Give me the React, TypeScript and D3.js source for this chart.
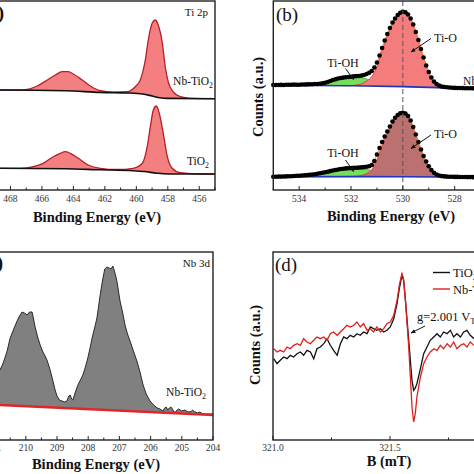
import React from "react";
import * as d3 from "d3";

const FONT = "'Liberation Serif', 'Times New Roman', 'DejaVu Serif', serif";

// ---------- (a) Ti 2p ----------
const tiEnergyNb = [470, 468.65, 467.57, 466.93, 466.3, 465.66, 465.15, 464.71, 464.32, 464.01, 463.44, 462.93, 462.29, 461.47, 460.58, 460.07, 459.75, 459.43, 459.24, 458.99, 458.8, 458.61, 458.35, 458.16, 457.97, 457.65, 457.21, 456.57, 455];
const tiCountsNb = [100, 100, 100, 100.7, 104, 110, 115, 118.3, 118.3, 116, 110, 104, 99.3, 97.8, 98.3, 103.3, 110, 130, 150, 167, 170, 165, 147, 123, 108, 98, 93.3, 91.7, 91.3];
const tiBgEnergyNb = [470, 468.65, 464.5, 462.3, 460.5, 459.6, 459.0, 458.5, 458.0, 455];
const tiBgNb = [100, 100, 99.3, 97.6, 97, 96, 94, 92.2, 91.6, 91.3];

const tiEnergyTi = [470, 468.65, 467.38, 466.55, 465.92, 465.28, 464.83, 464.52, 464.2, 463.69, 463.06, 462.29, 461.21, 460.2, 459.62, 459.31, 459.11, 458.92, 458.73, 458.54, 458.29, 458.03, 457.72, 457.21, 455.94, 455];
const tiCountsTi = [21.7, 21.7, 21.7, 23.3, 26.7, 33.3, 36.7, 38.3, 36.7, 31.7, 25, 21.7, 20.5, 21.7, 26.7, 43.3, 63.3, 80, 84, 76.7, 56.7, 33.3, 21.7, 17.3, 16, 16];
const tiBgEnergyTi = [470, 468.65, 464.5, 462.3, 460.2, 459.5, 458.7, 458.0, 455];
const tiBgTi = [21.7, 21.7, 21.2, 20.2, 19.3, 18.5, 16.8, 16, 16];

const ticksAMajor = [470, 468, 466, 464, 462, 460, 458, 456];
const ticksAMinor = [469, 467, 465, 463, 461, 459, 457, 455];

// ---------- (b) O 1s ----------
const oEnergy = [535.0, 534.9, 534.8, 534.7, 534.6, 534.5, 534.4, 534.3, 534.2, 534.1, 534.0, 533.9, 533.8, 533.7, 533.6, 533.5, 533.4, 533.3, 533.2, 533.1, 533.0, 532.9, 532.8, 532.7, 532.6, 532.5, 532.4, 532.3, 532.2, 532.1, 532.0, 531.9, 531.8, 531.7, 531.6, 531.5, 531.4, 531.3, 531.2, 531.1, 531.0, 530.9, 530.8, 530.7, 530.6, 530.5, 530.4, 530.3, 530.2, 530.1, 530.0, 529.9, 529.8, 529.7, 529.6, 529.5, 529.4, 529.3, 529.2, 529.1, 529.0, 528.9, 528.8, 528.7, 528.6, 528.5, 528.4, 528.3, 528.2, 528.1, 528.0, 527.9, 527.8, 527.7, 527.6, 527.5, 527.4, 527.3, 527.2, 527.1, 527.0, 526.9, 526.8, 526.7, 526.6, 526.5, 526.4, 526.3, 526.2, 526.1, 526.0];
const oCountsNb = [105, 105, 105, 105.1, 105, 105.2, 105.3, 105.2, 105.4, 105.3, 105.3, 105.5, 105.5, 105.6, 105.8, 105.8, 106, 106, 106.3, 106.8, 107.3, 108, 109, 110, 110.8, 111.5, 112, 112.4, 112.7, 113, 113.3, 113.6, 113.9, 114, 114.4, 115, 116, 117.2, 119, 122.5, 127.5, 134.5, 142, 149.5, 156, 162, 167.5, 171.5, 175, 177.3, 178.3, 177.8, 175.5, 171.5, 165.5, 158, 150, 141, 132.5, 124.5, 118, 112.5, 108.5, 106, 104.5, 103.5, 103, 102.7, 102.5, 102.3, 102.1, 102, 102, 101.9, 101.8, 101.8, 101.7, 101.7, 101.7, 101.6, 101.6, 101.6, 101.6, 101.5, 101.5, 101.5, 101.5, 101.4, 101.4, 101.4, 101.4];
const oCountsTi = [13.3, 13.3, 13.4, 13.4, 13.5, 13.6, 13.7, 13.8, 14, 14.2, 14.3, 14.5, 14.7, 14.9, 15.2, 15.5, 15.8, 16.2, 16.7, 17.2, 17.7, 18.3, 18.9, 19.5, 20, 20.5, 21, 21.3, 21.6, 21.8, 22, 22.1, 22.2, 22.4, 22.6, 22.9, 23.3, 23.8, 25, 29, 35.5, 42, 48, 53.5, 58.5, 63.5, 68.5, 72.3, 75, 76.8, 77.3, 76.5, 74, 69.5, 63, 55.5, 48, 40.5, 34, 28.5, 23.8, 20, 17.2, 15.5, 14.5, 13.9, 13.6, 13.4, 13.3, 13.2, 13.1, 13.1, 13, 13, 13, 12.9, 12.9, 12.9, 12.8, 12.8, 12.8, 12.8, 12.8, 12.7, 12.7, 12.7, 12.7, 12.7, 12.7, 12.7, 12.7];

const oBgEnergy = [535, 532, 530, 528, 526];
const oBgNb = [104.8, 104.3, 103.4, 101.9, 101.4];
const oBgTi = [13.3, 13.4, 13.3, 13.0, 12.7];

const compEnergy = [534.0, 533.8, 533.6, 533.4, 533.2, 533.0, 532.8, 532.6, 532.4, 532.2, 532.0, 531.8, 531.6, 531.4, 531.2, 531.0, 530.8, 530.6, 530.4, 530.2, 530.0, 529.8, 529.6, 529.4, 529.2, 529.0, 528.8, 528.6, 528.4, 528.2];
const tiOHNb = [0.1, 0.2, 0.4, 0.8, 1.6, 2.8, 4.3, 5.8, 7.2, 8.3, 8.9, 8.9, 8.3, 7.0, 5.5, 4.0, 2.8, 1.8, 1.1, 0.6, 0.3, 0.1, 0, 0, 0, 0, 0, 0, 0, 0];
const tiONb = [0, 0, 0, 0, 0, 0, 0, 0, 0, 0, 0, 0.8, 2, 5, 9.5, 19.6, 35.4, 50.5, 62.9, 71, 74.7, 72.3, 62.4, 47, 29.6, 15.2, 5.8, 1.9, 0.5, 0.1];
const tiOHTi = [0.8, 1.2, 1.7, 2.3, 3.1, 4.0, 5.0, 6.0, 7.0, 7.8, 8.3, 8.5, 8.2, 7.3, 6.0, 4.7, 3.5, 2.4, 1.5, 0.9, 0.5, 0.2, 0.1, 0, 0, 0, 0, 0, 0, 0];
const tiOTi = [0, 0, 0, 0, 0, 0, 0, 0, 0, 0, 0, 0.5, 1.2, 3, 7, 17, 31, 42.6, 53.6, 60.7, 63.4, 60.7, 49.7, 34.7, 20.8, 10.6, 4, 1.4, 0.4, 0.1];

const ticksBMajor = [534, 532, 530, 528, 526];
const ticksBMinor = [535, 533, 531, 529, 527];

// ---------- (c) Nb 3d ----------
const nbEnergy = [211.5, 211.3, 211.1, 210.95, 210.83, 210.75, 210.67, 210.59, 210.51, 210.4, 210.28, 210.2, 210.12, 210.04, 209.96, 209.88, 209.8, 209.75, 209.71, 209.62, 209.54, 209.45, 209.38, 209.31, 209.22, 209.13, 209.06, 209.0, 208.92, 208.84, 208.76, 208.68, 208.62, 208.58, 208.53, 208.49, 208.42, 208.33, 208.25, 208.17, 208.1, 208.02, 207.94, 207.86, 207.78, 207.72, 207.63, 207.55, 207.47, 207.4, 207.33, 207.27, 207.21, 207.15, 207.08, 206.98, 206.9, 206.82, 206.74, 206.66, 206.55, 206.44, 206.34, 206.24, 206.14, 206.02, 205.9, 205.79, 205.7, 205.6, 205.55, 205.5, 205.45, 205.4, 205.35, 205.3, 205.25, 205.2, 205.15, 205.1, 205.0, 204.9, 204.8, 204.7, 204.65, 204.6, 204.5, 204.42, 204.35, 204.26, 204.15, 204.0];
const nbCounts = [48, 55, 62, 66, 70, 75, 82, 90, 101, 110, 119, 124, 128, 127, 125, 128, 128, 121, 114, 103, 95, 88, 84, 79, 70, 59, 50, 44, 40, 39, 38, 39, 44, 45, 41, 40, 47, 55, 60, 65, 72, 81, 92, 104, 114, 122, 142, 158, 171, 173, 172, 171, 174, 168, 159, 139, 128, 115, 106, 99, 89, 79, 68, 55, 46, 39, 35, 32, 31, 29, 32, 33, 30, 32, 33, 31, 28, 28, 30, 31, 29, 30, 28, 28.5, 30, 28.5, 27, 28, 26.5, 26, 26, 26];
const nbBgEnergy = [211.5, 204];
const nbBg = [36, 25];
const ticksCMajor = [211, 210, 209, 208, 207, 206, 205, 204];
const ticksCMinor = [211.5, 210.5, 209.5, 208.5, 207.5, 206.5, 205.5, 204.5];

// ---------- (d) EPR ----------
const field = [321.003, 321.017, 321.031, 321.046, 321.06, 321.074, 321.088, 321.103, 321.117, 321.131, 321.145, 321.16, 321.174, 321.188, 321.202, 321.217, 321.231, 321.245, 321.259, 321.274, 321.288, 321.302, 321.316, 321.33, 321.345, 321.359, 321.373, 321.387, 321.402, 321.416, 321.43, 321.444, 321.459, 321.473, 321.487, 321.501, 321.516, 321.53, 321.541, 321.551, 321.558, 321.566, 321.573, 321.58, 321.587, 321.594, 321.601, 321.608, 321.615, 321.63, 321.644, 321.658, 321.672, 321.687, 321.701, 321.715, 321.729, 321.744, 321.758, 321.772, 321.786, 321.801, 321.815, 321.829, 321.843, 321.859];
const eprTiO2 = [81.3, 76.3, 79.7, 83, 81.3, 84.7, 83, 86.3, 88, 84.7, 89.7, 88, 81.3, 91.3, 93, 96.3, 101.3, 94.7, 89.7, 84.7, 96.3, 103, 101.3, 104.7, 103, 106.3, 104.7, 108, 106.3, 113, 111.3, 109.7, 111.3, 108, 109.7, 113, 121.3, 136.3, 153, 164.7, 159.7, 139.7, 119.7, 99.7, 79.7, 59.7, 49.7, 52, 56.3, 71.3, 86.3, 93, 99.7, 103, 106.3, 103, 108, 106.3, 109.7, 103, 106.3, 103, 108, 109.7, 104.7, 101.3];
const eprNbTiO2 = [91.3, 88, 89.7, 88, 93, 91.3, 94.7, 96.3, 94.7, 101.3, 98, 96.3, 99.7, 103, 101.3, 103, 99.7, 106.3, 108, 104.7, 108, 111.3, 114.7, 113, 114.7, 118, 113, 116.3, 109.7, 111.3, 108, 113, 108, 111.3, 116.3, 118, 124.7, 139.7, 156.3, 166.3, 161.3, 139.7, 116.3, 93, 63, 33, 18, 26.3, 43, 63, 76.3, 83, 88, 91.3, 89.7, 94.7, 91.3, 96.3, 93, 98, 91.3, 94.7, 96.3, 93, 98, 94.7];
const ticksDMajor = [321.0, 321.5, 322.0];
const ticksDMinor = [321.25, 321.75];

// ---------- scales ----------
const xA = d3.scaleLinear().domain([470, 455]).range([-21, 215]);
const yA = d3.scaleLinear().domain([0, 190]).range([190, 0]);
const xB = d3.scaleLinear().domain([535, 526]).range([273.3, 506.5]);
const yB = d3.scaleLinear().domain([0, 190]).range([190, 0]);
const xC = d3.scaleLinear().domain([211.5, 204]).range([-21, 213]);
const yC = d3.scaleLinear().domain([0, 188]).range([440, 252]);
const xD = d3.scaleLinear().domain([321, 322]).range([273, 507]);
const yD = d3.scaleLinear().domain([0, 188]).range([440, 252]);

const INK = "#222";

function Frame({ x0, x1, y0, y1 }: any) {
  return <rect x={x0} y={y0} width={x1 - x0} height={y1 - y0} fill="none" stroke={INK} strokeWidth={1.4} />;
}

function XAxis({ scale, major, minor, y, labelY, fmt }: any) {
  return (
    <g>
      {major.map((t: number) => (
        <g key={"M" + t}>
          <line x1={scale(t)} x2={scale(t)} y1={y} y2={y - 4} stroke={INK} strokeWidth={1} />
          <text x={scale(t)} y={labelY} fontSize={9.5} textAnchor="middle" fill="#333">{fmt(t)}</text>
        </g>
      ))}
      {minor.map((t: number) => (
        <line key={"m" + t} x1={scale(t)} x2={scale(t)} y1={y} y2={y - 2.5} stroke={INK} strokeWidth={1} />
      ))}
    </g>
  );
}

function Sub({ children }: any) {
  return <tspan dy={3} fontSize="0.68em">{children}</tspan>;
}

function TiPanel() {
  const make = (E: number[], V: number[], bE: number[], bV: number[]) => {
    const bg = d3.scaleLinear().domain(bE).range(bV);
    const area = d3.area<number>().x((_, i) => xA(E[i])).y0((_, i) => yA(bg(E[i]))).y1((v) => yA(v)).curve(d3.curveMonotoneX);
    const line = d3.line<number>().x((_, i) => xA(E[i])).y((v) => yA(v)).curve(d3.curveMonotoneX);
    const bgLine = d3.line<number>().x((_, i) => xA(bE[i])).y((v) => yA(v)).curve(d3.curveMonotoneX);
    return (
      <g>
        <path d={area(V) || ""} fill="#f47f80" stroke="none" />
        <path d={line(V) || ""} fill="none" stroke="#b51e26" strokeWidth={1.3} />
        <path d={bgLine(bV) || ""} fill="none" stroke="#111" strokeWidth={1.6} />
      </g>
    );
  };
  return (
    <g>
      {make(tiEnergyNb, tiCountsNb, tiBgEnergyNb, tiBgNb)}
      {make(tiEnergyTi, tiCountsTi, tiBgEnergyTi, tiBgTi)}
      <Frame x0={-21} x1={215} y0={1} y1={190} />
      <XAxis scale={xA} major={ticksAMajor} minor={ticksAMinor} y={190} labelY={201.5} fmt={(t: number) => String(t)} />
      <text x={4} y={19} fontSize={19} fontWeight="bold" textAnchor="end">(a)</text>
      <text x={208} y={16} fontSize={11} textAnchor="end">Ti 2p</text>
      <text x={213} y={85} fontSize={11.5} textAnchor="end">Nb-TiO<Sub>2</Sub></text>
      <text x={209} y={165} fontSize={11.5} textAnchor="end">TiO<Sub>2</Sub></text>
      <text x={97} y={221.5} fontSize={14.5} fontWeight="bold" textAnchor="middle">Binding Energy (eV)</text>
    </g>
  );
}

function OPanel() {
  const make = (V: number[], bV: number[], OH: number[], O: number[], fillO: string) => {
    const bg = d3.scaleLinear().domain(oBgEnergy).range(bV);
    const compArea = (C: number[]) =>
      d3.area<number>().x((_, i) => xB(compEnergy[i])).y0((_, i) => yB(bg(compEnergy[i]))).y1((c, i) => yB(bg(compEnergy[i]) + c)).curve(d3.curveMonotoneX)(C) || "";
    const compLine = (C: number[]) =>
      d3.line<number>().x((_, i) => xB(compEnergy[i])).y((c, i) => yB(bg(compEnergy[i]) + c)).curve(d3.curveMonotoneX)(C) || "";
    const env = compEnergy.map((e, i) => OH[i] + O[i]);
    const bgLine = d3.line<number>().x((_, i) => xB(oBgEnergy[i])).y((v) => yB(v))(bV) || "";
    return (
      <g>
        <path d={compArea(OH)} fill="#74df5c" />
        <path d={compLine(OH)} fill="none" stroke="#3aa32a" strokeWidth={0.8} />
        <path d={compArea(O)} fill={fillO} />
        <path d={compLine(O)} fill="none" stroke="#e2373a" strokeWidth={0.9} />
        <path d={bgLine} fill="none" stroke="#2236b5" strokeWidth={1.6} />
        <path d={compLine(env)} fill="none" stroke="#f08a2a" strokeWidth={1} />
        {V.map((v, i) => (
          <circle key={i} cx={xB(oEnergy[i])} cy={yB(v)} r={2.3} fill="#000" />
        ))}
      </g>
    );
  };
  const arrow = (x1: number, y1: number, x2: number, y2: number) => (
    <line x1={x1} y1={y1} x2={x2} y2={y2} stroke="#111" strokeWidth={1} markerEnd="url(#arrowHead)" />
  );
  return (
    <g>
      {make(oCountsNb, oBgNb, tiOHNb, tiONb, "#f47c7c")}
      {make(oCountsTi, oBgTi, tiOHTi, tiOTi, "#ba7170")}
      <line x1={xB(530)} x2={xB(530)} y1={1} y2={190} stroke="#555" strokeWidth={1} strokeDasharray="5,3" />
      <Frame x0={273.3} x1={506.5} y0={1} y1={190} />
      <XAxis scale={xB} major={ticksBMajor} minor={ticksBMinor} y={190} labelY={201.5} fmt={(t: number) => String(t)} />
      <text x={276} y={21} fontSize={19}>(b)</text>
      <text x={343} y={66.5} fontSize={12} textAnchor="middle">Ti-OH</text>
      {arrow(345.5, 68.5, 353.5, 79.5)}
      <text x={434} y={41.5} fontSize={12}>Ti-O</text>
      {arrow(431, 38.5, 411, 52)}
      <text x={343} y={157} fontSize={12} textAnchor="middle">Ti-OH</text>
      {arrow(345.5, 160, 353.5, 171.5)}
      <text x={434} y={138} fontSize={12}>Ti-O</text>
      {arrow(431, 135, 411, 148.5)}
      <text x={503} y={85} fontSize={11.5} textAnchor="end">Nb-TiO<Sub>2</Sub></text>
      <text x={503} y={166} fontSize={11.5} textAnchor="end">TiO<Sub>2</Sub></text>
      <text x={391} y={221} fontSize={14.5} fontWeight="bold" textAnchor="middle">Binding Energy (eV)</text>
      <text transform="translate(263,97) rotate(-90)" fontSize={14.5} fontWeight="bold" textAnchor="middle">Counts (a.u.)</text>
    </g>
  );
}

function NbPanel() {
  const bg = d3.scaleLinear().domain(nbBgEnergy).range(nbBg);
  const area = d3.area<number>().x((_, i) => xC(nbEnergy[i])).y0((_, i) => yC(bg(nbEnergy[i]))).y1((v) => yC(v))(nbCounts) || "";
  const line = d3.line<number>().x((_, i) => xC(nbEnergy[i])).y((v) => yC(v))(nbCounts) || "";
  const bgLine = d3.line<number>().x((_, i) => xC(nbBgEnergy[i])).y((v) => yC(v))(nbBg) || "";
  return (
    <g>
      <path d={area} fill="#808080" />
      <path d={line} fill="none" stroke="#2a2a2a" strokeWidth={1} />
      <path d={bgLine} fill="none" stroke="#e0262b" strokeWidth={2.6} />
      <Frame x0={-21} x1={213} y0={252} y1={440} />
      <XAxis scale={xC} major={ticksCMajor} minor={ticksCMinor} y={440} labelY={451} fmt={(t: number) => String(t)} />
      <text x={3} y={269} fontSize={19} fontWeight="bold" textAnchor="end">(c)</text>
      <text x={210} y={267} fontSize={11} textAnchor="end">Nb 3d</text>
      <text x={206} y={396} fontSize={11.5} textAnchor="end">Nb-TiO<Sub>2</Sub></text>
      <text x={96} y={469} fontSize={14.5} fontWeight="bold" textAnchor="middle">Binding Energy (eV)</text>
    </g>
  );
}

function EprPanel() {
  const mk = (V: number[]) => d3.line<number>().x((_, i) => xD(field[i])).y((v) => yD(v))(V) || "";
  return (
    <g>
      <path d={mk(eprTiO2)} fill="none" stroke="#111" strokeWidth={1.3} />
      <path d={mk(eprNbTiO2)} fill="none" stroke="#e0201e" strokeWidth={1.3} />
      <Frame x0={273} x1={507} y0={252} y1={440} />
      <XAxis scale={xD} major={ticksDMajor} minor={ticksDMinor} y={440} labelY={451} fmt={d3.format(".1f")} />
      <text x={275} y={271} fontSize={19}>(d)</text>
      <line x1={433} x2={450} y1={272.5} y2={272.5} stroke="#111" strokeWidth={1.4} />
      <text x={453} y={277} fontSize={12.5}>TiO<Sub>2</Sub></text>
      <line x1={433} x2={450} y1={289} y2={289} stroke="#e0201e" strokeWidth={1.4} />
      <text x={453} y={293.5} fontSize={12.5}>Nb-TiO<Sub>2</Sub></text>
      <text x={417} y={321} fontSize={12.5}>g=2.001 V<Sub>Ti</Sub></text>
      <line x1={425} y1={326} x2={411} y2={333} stroke="#111" strokeWidth={1} markerEnd="url(#arrowHead)" />
      <text x={389} y={466} fontSize={14.5} fontWeight="bold" textAnchor="middle">B (mT)</text>
      <text transform="translate(260,345) rotate(-90)" fontSize={14.5} fontWeight="bold" textAnchor="middle">Counts (a.u.)</text>
    </g>
  );
}

export default function App() {
  return (
    <svg width={474} height={474} viewBox="0 0 474 474" style={{ position: "absolute", left: 0, top: 0, background: "#fff", fontFamily: FONT }} fill="#111">
      <defs>
        <marker id="arrowHead" viewBox="0 0 10 10" refX="9" refY="5" markerWidth="5" markerHeight="5" orient="auto">
          <path d="M0,1 L10,5 L0,9 z" fill="#111" />
        </marker>
      </defs>
      <rect x={0} y={0} width={474} height={474} fill="#fff" />
      <TiPanel />
      <OPanel />
      <NbPanel />
      <EprPanel />
    </svg>
  );
}
